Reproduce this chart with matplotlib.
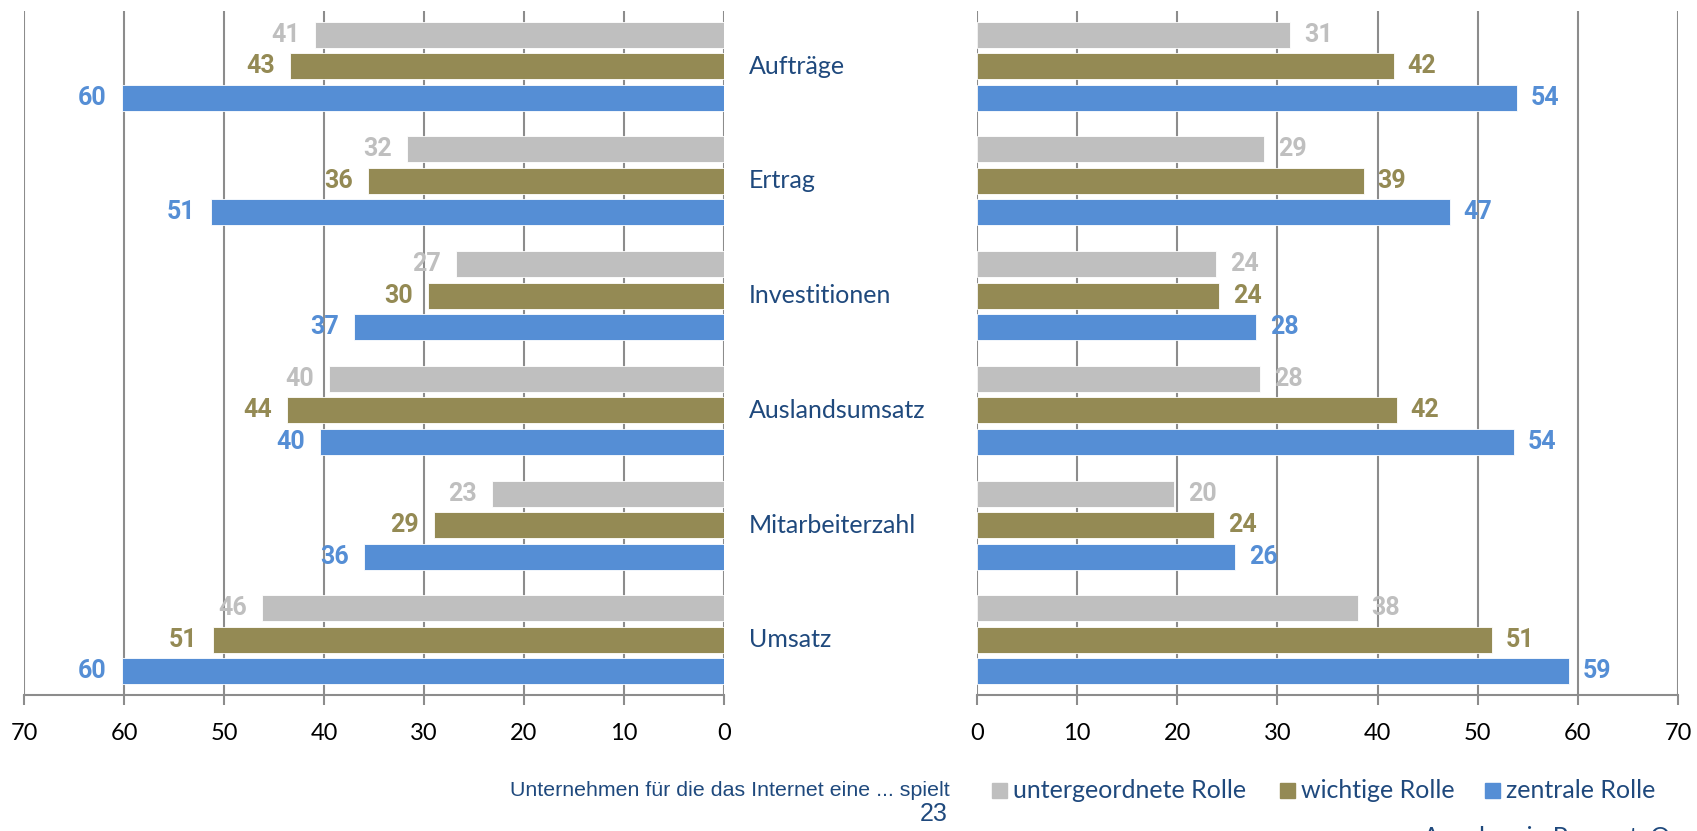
import matplotlib
matplotlib.use("Agg")
import matplotlib.pyplot as plt
from matplotlib.patches import Rectangle
import numpy as np

categories = ["Aufträge", "Ertrag", "Investitionen", "Auslandsumsatz", "Mitarbeiterzahl", "Umsatz"]
series_names = ["untergeordnete Rolle", "wichtige Rolle", "zentrale Rolle"]

left_untergeordnet = [40.9, 31.7, 26.8, 39.5, 23.2, 46.2]
left_wichtig = [43.4, 35.6, 29.6, 43.7, 29.0, 51.1]
left_zentral = [60.2, 51.3, 37.0, 40.4, 36.0, 60.2]

right_untergeordnet = [31.3, 28.7, 23.9, 28.3, 19.7, 38.0]
right_wichtig = [41.6, 38.6, 24.2, 41.9, 23.7, 51.4]
right_zentral = [53.9, 47.2, 27.9, 53.6, 25.8, 59.1]

x_ticks = [0, 10, 20, 30, 40, 50, 60, 70]

colors = ["#BFBFBF", "#948A54", "#558ED5"]
label_blue = "#1F497D"
grid_col = "#8C8C8C"

W, H = 1697, 831
fig = plt.figure(figsize=(W / 100, H / 100), dpi=100)

bottom = 1 - 695 / H
top = 1 - 11 / H
axL = fig.add_axes([24 / W, bottom, 700 / W, top - bottom])
axR = fig.add_axes([977 / W, bottom, 701 / W, top - bottom])

y = np.arange(len(categories))
offs = [-0.274, 0.0, 0.274]
bh = 0.226
font = "Lato"
bold_font = "Roboto"

for ax, data, side in [(axL, [left_untergeordnet, left_wichtig, left_zentral], "L"),
                       (axR, [right_untergeordnet, right_wichtig, right_zentral], "R")]:
    for k, vals in enumerate(data):
        ax.barh(y + offs[k], vals, height=bh, color=colors[k],
                edgecolor="white", linewidth=0.6, zorder=3)
        for yy, v in zip(y + offs[k], vals):
            ax.annotate(f"{round(v)}", xy=(v, yy),
                        xytext=(-11 if side == "L" else 10, 0), textcoords="offset points",
                        ha="right" if side == "L" else "left", va="center",
                        fontsize=18, fontweight="bold", color=colors[k],
                        family=bold_font, zorder=4)
    if side == "L":
        ax.set_xlim(70, 0)
    else:
        ax.set_xlim(0, 70)
    ax.set_ylim(5.48, -0.48)
    ax.set_xticks(x_ticks)
    ax.set_yticks([])
    ax.grid(axis="x", color=grid_col, linewidth=1.5, zorder=0)
    ax.set_axisbelow(True)
    for s in ["top", "left", "right"]:
        ax.spines[s].set_visible(False)
    ax.spines["bottom"].set_color(grid_col)
    ax.spines["bottom"].set_linewidth(1.5)
    ax.tick_params(axis="x", direction="out", length=7, width=1.5, color=grid_col,
                   labelsize=17, pad=13, labelcolor="black")
    for lab in ax.get_xticklabels():
        lab.set_family(font)

# category labels
for i, c in enumerate(categories):
    yy = axL.transData.transform((0, i))[1]
    fy = fig.transFigure.inverted().transform((0, yy))[1]
    fig.text(749 / W, fy, c, ha="left", va="center", fontsize=18, color=label_blue, family=font)

# legend
ly = 1 - 790 / H
sq = 15
leg_x = [992, 1280, 1485]
for k, name in enumerate(series_names):
    fig.patches.append(Rectangle(((leg_x[k]) / W, ly - sq / 2 / H), sq / W, sq / H,
                                 transform=fig.transFigure, color=colors[k]))
    fig.text((leg_x[k] + 21) / W, ly, name, ha="left", va="center", fontsize=18,
             color=label_blue, family=font)

fig.text(950 / W, ly, "Unternehmen für die das Internet eine ... spielt", ha="right", va="center",
         fontsize=15.4, color=label_blue, family="Liberation Sans")
fig.text(948 / W, 1 - 821 / H, "23", ha="right", va="baseline", fontsize=18,
         color=label_blue, family="Liberation Sans")
fig.text(1423 / W, 1 - 845 / H, "Angaben in Prozent, Quelle: DIHK", ha="left", va="baseline",
         fontsize=18, color=label_blue, family=font)

fig.savefig("out.png", dpi=100)
